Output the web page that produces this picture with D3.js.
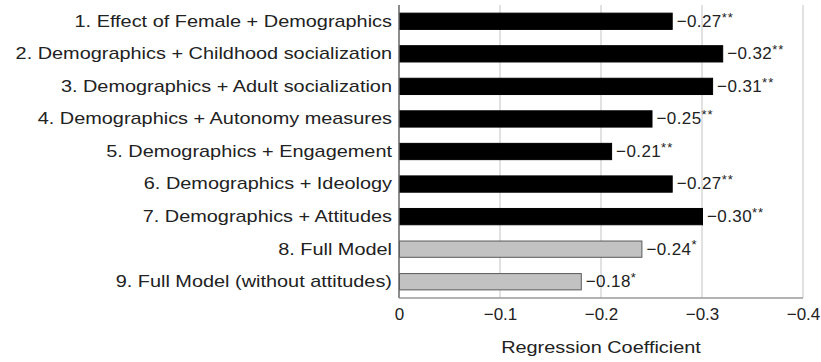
<!DOCTYPE html>
<html>
<head>
<meta charset="utf-8">
<script src="https://cdn.jsdelivr.net/npm/d3@7"></script>
<style>
  html, body { margin: 0; padding: 0; background: #ffffff; }
  svg { display: block; font-family: "Liberation Sans", Arial, Helvetica, sans-serif; }
</style>
</head>
<body>
<svg id="chart" width="821" height="362"></svg>
<script>
// Model specifications (row labels, top to bottom)
const models = [
  "1. Effect of Female + Demographics",
  "2. Demographics + Childhood socialization",
  "3. Demographics + Adult socialization",
  "4. Demographics + Autonomy measures",
  "5. Demographics + Engagement",
  "6. Demographics + Ideology",
  "7. Demographics + Attitudes",
  "8. Full Model",
  "9. Full Model (without attitudes)"
];
// Coefficient on Female in each model
const coefficients = [-0.27, -0.32, -0.31, -0.25, -0.21, -0.27, -0.30, -0.24, -0.18];
// Significance stars
const stars = ["**", "**", "**", "**", "**", "**", "**", "*", "*"];
// Whether the row is a full model (drawn in gray)
const fullModel = [false, false, false, false, false, false, false, true, true];
// Axis ticks
const xTicks = [0, -0.1, -0.2, -0.3, -0.4];

const svg = d3.select("#chart");
const margin = { left: 399, right: 18, top: 5, bottom: 64 };
const W = 821, H = 362;
const plotW = W - margin.left - margin.right;
const plotH = H - margin.top - margin.bottom;
const FS = 17;
const WIDE = 1.17; // horizontal stretch for the row labels and axis title

const x = d3.scaleLinear().domain([0, -0.4]).range([0, plotW]);
const y = d3.scaleBand().domain(models).range([0, plotH]).paddingInner(0.5).paddingOuter(0.25);

const g = svg.append("g").attr("transform", `translate(${margin.left},${margin.top})`);

// vertical gridlines
g.selectAll("line.grid").data(xTicks.slice(1)).enter().append("line")
  .attr("class", "grid")
  .attr("x1", d => x(d)).attr("x2", d => x(d))
  .attr("y1", 0).attr("y2", plotH)
  .attr("stroke", "#c4c4c4").attr("stroke-width", 1);

// bars
const rows = models.map((m, i) => ({ m, v: coefficients[i], s: stars[i], full: fullModel[i] }));
g.selectAll("rect.bar").data(rows).enter().append("rect")
  .attr("class", "bar")
  .attr("x", x(0) + 0.5)
  .attr("y", d => y(d.m))
  .attr("width", d => x(d.v) - x(0))
  .attr("height", y.bandwidth())
  .attr("fill", d => d.full ? "#c2c2c2" : "#000000")
  .attr("stroke", d => d.full ? "#5a5a5a" : "#000000")
  .attr("stroke-width", 1);

// value labels
const vl = g.selectAll("text.val").data(rows).enter().append("text")
  .attr("class", "val")
  .attr("x", d => x(d.v) + 5)
  .attr("y", d => y(d.m) + y.bandwidth() / 2)
  .attr("dy", "0.32em")
  .attr("font-size", FS)
  .attr("letter-spacing", "0.4px")
  .attr("fill", "#222");
vl.append("tspan").text(d => "\u2212" + Math.abs(d.v).toFixed(2));
vl.append("tspan").attr("font-size", 13).attr("dy", "-0.4em").attr("letter-spacing", "1px").text(d => d.s);

// category labels (stretched horizontally)
g.selectAll("text.cat").data(models).enter().append("text")
  .attr("class", "cat")
  .attr("transform", d => `translate(-7,${y(d) + y.bandwidth() / 2}) scale(${WIDE},1)`)
  .attr("dy", "0.32em")
  .attr("text-anchor", "end")
  .attr("font-size", FS)
  .attr("fill", "#222")
  .text(d => d);

// frame: left axis, bottom axis
g.append("line").attr("x1", 0).attr("x2", 0).attr("y1", 0).attr("y2", plotH)
  .attr("stroke", "#666").attr("stroke-width", 1.5);
g.append("line").attr("x1", 0).attr("x2", plotW).attr("y1", plotH).attr("y2", plotH)
  .attr("stroke", "#9a9a9a").attr("stroke-width", 1.5);

// x axis ticks
const xAxis = d3.axisBottom(x).tickValues(xTicks).tickSize(0).tickPadding(10)
  .tickFormat(d => d === 0 ? "0" : "\u2212" + Math.abs(d).toFixed(1));
const ax = g.append("g").attr("transform", `translate(0,${plotH})`).call(xAxis);
ax.select(".domain").remove();
ax.selectAll("text").attr("font-size", FS).attr("fill", "#222")
  .attr("font-family", "'Liberation Sans', Arial, sans-serif");

// axis title
g.append("text")
  .attr("transform", `translate(${x(-0.2)},${plotH + 55}) scale(${WIDE},1)`)
  .attr("text-anchor", "middle")
  .attr("font-size", FS)
  .attr("fill", "#222")
  .text("Regression Coefficient");
</script>
</body>
</html>
